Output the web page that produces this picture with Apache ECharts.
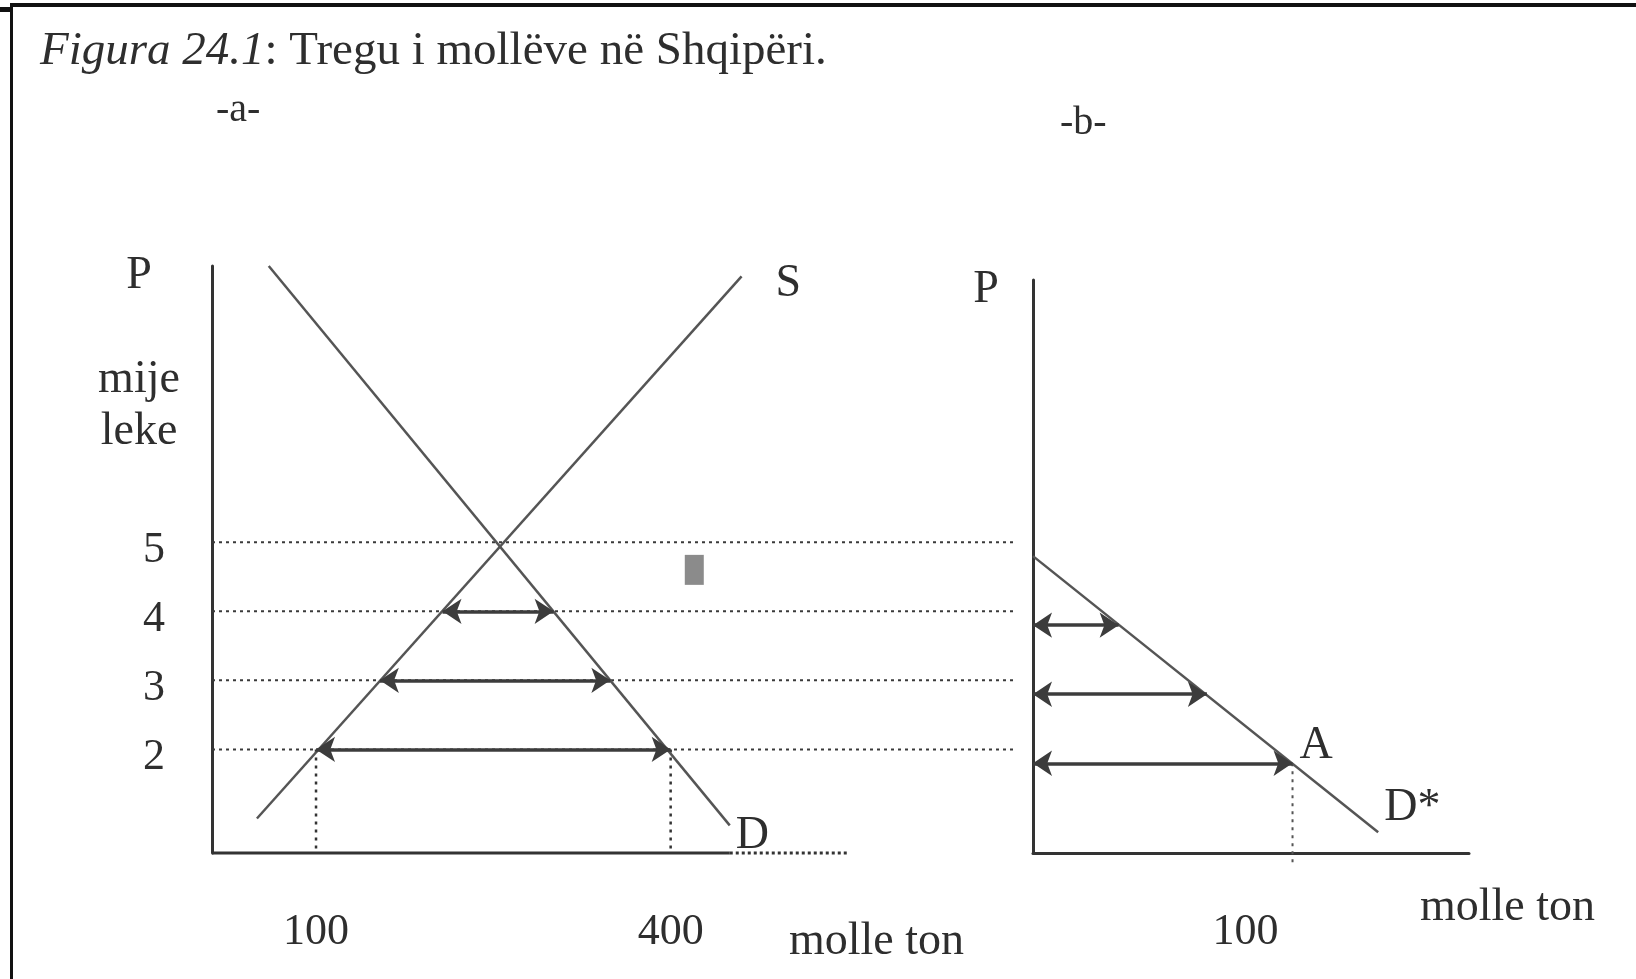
<!DOCTYPE html>
<html>
<head>
    <meta charset="utf-8">
    <title>Tregu i mollëve në Shqipëri</title>
    <script src="https://cdn.jsdelivr.net/npm/echarts@6.0.0/dist/echarts.min.js"></script>
    <style>
        html, body { margin: 0; padding: 0; background: #fff; }
    </style>
</head>
<body>
    <div id="main" style="width:1636px;height:979px;"></div>
    <script type="text/javascript">
        // te dhenat e figures
        var priceLevels = [5, 4, 3, 2];          // vijat me pika horizontale
        var guideFromA = 12, guideToA = 693;     // shtrirja e tyre (molle ton, paneli a)
        var axisSolidA = [12, 450], axisDottedA = [450, 549];
        var supplyA = [[50, 1.0], [460, 8.85]];  // S
        var demandA = [[60, 9.0], [450, 0.9]];   // D
        var shortPrices = [4, 3, 2];
        var supplyQtyA = [207, 154, 100];
        var demandQtyA = [301, 349, 400];
        var excessDemandB = [[0, 5], [133, 1.0]]; // D*
        var importQtyB = [33, 67, 100];
        var pTicksA = [2, 3, 4, 5];
        var qTicksA = [100, 400];
        var qTicksB = [100];
        var pointA = [100, 2];
        var markerA = [420, 4.6];

        var font = 'Liberation Serif';
        var ink = '#2e2e2e';
        var lineGray = '#555';

        function seg(grid, data, type, width, color) {
            return {
                type: 'line', xAxisIndex: grid, yAxisIndex: grid,
                data: data, showSymbol: false, symbol: 'none', clip: false, silent: true,
                lineStyle: { color: color || lineGray, width: width || 2, type: type || 'solid' }
            };
        }

        var series = [];
        // boshti x i panelit a (i plote, pastaj me pika)
        series.push(seg(0, [[axisSolidA[0], 0.5], [axisSolidA[1], 0.5]], 'solid', 3, '#333'));
        series.push(seg(0, [[axisDottedA[0], 0.5], [axisDottedA[1], 0.5]], [3, 3], 3, '#333'));
        // vijat me pika te cmimeve (a -> b)
        priceLevels.forEach(function (p) {
            series.push(seg(0, [[guideFromA, p], [guideToA, p]], [3, 4], 2, '#3a3a3a'));
        });
        // vijat vertikale me pika
        series.push(seg(0, [[qTicksA[0], 2], [qTicksA[0], 0.5]], [3, 5], 2.5, '#333'));
        series.push(seg(0, [[qTicksA[1], 2], [qTicksA[1], 0.5]], [3, 5], 2.5, '#333'));
        series.push(seg(1, [[qTicksB[0], 2], [qTicksB[0], 0.5]], [3, 5], 2, '#555'));

        // S, D, D*
        var sS = seg(0, supplyA, 'solid', 2.5);
        sS.endLabel = { show: true, formatter: 'S', distance: 0, offset: [34, 8],
            fontFamily: font, fontSize: 46, color: ink };
        series.push(sS);
        var sD = seg(0, demandA, 'solid', 2.5);
        sD.endLabel = { show: true, formatter: 'D', distance: 0, offset: [6, 11],
            fontFamily: font, fontSize: 46, color: ink };
        series.push(sD);
        var sDs = seg(1, excessDemandB, 'solid', 2.5);
        sDs.endLabel = { show: true, formatter: 'D*', distance: 0, offset: [6, -24],
            fontFamily: font, fontSize: 46, color: ink };
        sDs.markPoint = {
            silent: true, symbol: 'rect', symbolSize: 1,
            itemStyle: { color: 'rgba(0,0,0,0)' },
            label: { show: true, formatter: 'A', position: 'inside', align: 'left', offset: [7, -17],
                fontFamily: font, fontSize: 46, color: ink },
            data: [{ coord: pointA }]
        };
        series.push(sDs);

        // shigjetat
        function arrows(grid, pairs) {
            return {
                type: 'line', xAxisIndex: grid, yAxisIndex: grid, data: [], silent: true,
                markLine: {
                    silent: true, symbol: ['arrow', 'arrow'], symbolSize: 19,
                    lineStyle: { color: '#3c3c3c', width: 3.5, type: 'solid' },
                    label: { show: false }, emphasis: { disabled: true },
                    data: pairs
                }
            };
        }
        series.push(arrows(0, shortPrices.map(function (p, i) {
            return [{ coord: [supplyQtyA[i], p] }, { coord: [demandQtyA[i], p] }];
        })));
        series.push(arrows(1, shortPrices.map(function (p, i) {
            return [{ coord: [0, p] }, { coord: [importQtyB[i], p] }];
        })));

        // shenja e vogel gri
        series.push({
            type: 'scatter', xAxisIndex: 0, yAxisIndex: 0, silent: true,
            symbol: 'rect', symbolSize: [19, 30], data: [markerA],
            itemStyle: { color: '#6e6e6e' }
        });

        var axisLine = { show: true, onZero: false, lineStyle: { color: '#333', width: 3 } };
        var labelText = { fontFamily: font, fontSize: 44, color: ink };

        var option = {
            animation: false,
            backgroundColor: '#fff',
            title: [
                {
                    text: '{i|Figura 24.1}: Tregu i mollëve në Shqipëri.',
                    left: 40, top: 28, padding: 0,
                    textStyle: { fontFamily: font, fontSize: 47, fontWeight: 'normal', color: ink,
                        rich: { i: { fontFamily: font, fontSize: 47, fontStyle: 'italic', color: ink } } }
                },
                { text: '-a-', left: 216, top: 90, padding: 0,
                    textStyle: { fontFamily: font, fontSize: 40, fontWeight: 'normal', color: ink } },
                { text: '-b-', left: 1060, top: 103, padding: 0,
                    textStyle: { fontFamily: font, fontSize: 40, fontWeight: 'normal', color: ink } }
            ],
            grid: [
                { left: 212, top: 266, width: 805, height: 587, outerBoundsMode: 'none', containLabel: false },
                { left: 1033, top: 280, width: 436, height: 573, outerBoundsMode: 'none', containLabel: false }
            ],
            xAxis: [
                {
                    type: 'value', gridIndex: 0, min: 12, max: 693,
                    axisLine: { show: false }, axisTick: { show: false }, splitLine: { show: false },
                    axisLabel: Object.assign({ customValues: qTicksA, margin: 57 }, labelText),
                    name: 'molle ton', nameLocation: 'end', nameGap: -228,
                    nameTextStyle: { fontFamily: font, fontSize: 46, color: ink,
                        align: 'left', verticalAlign: 'top', padding: [66, 0, 0, 0] }
                },
                {
                    type: 'value', gridIndex: 1, min: 0, max: 168,
                    axisLine: axisLine, axisTick: { show: false }, splitLine: { show: false },
                    axisLabel: Object.assign({ customValues: qTicksB, margin: 57, padding: [0, 94, 0, 0] }, labelText),
                    name: 'molle ton', nameLocation: 'end', nameGap: -49,
                    nameTextStyle: { fontFamily: font, fontSize: 46, color: ink,
                        align: 'left', verticalAlign: 'top', padding: [32, 0, 0, 0] }
                }
            ],
            yAxis: [
                {
                    type: 'value', gridIndex: 0, min: 0.5, max: 9,
                    axisLine: axisLine, axisTick: { show: false }, splitLine: { show: false },
                    axisLabel: Object.assign({ customValues: pTicksA, margin: 47,
                        verticalAlign: 'top', lineHeight: 16 }, labelText),
                    name: 'P\n\nmije\nleke', nameLocation: 'end', nameGap: 16,
                    nameTextStyle: { fontFamily: font, fontSize: 46, color: ink, lineHeight: 52,
                        align: 'center', verticalAlign: 'top', padding: [0, 146, 0, 0] }
                },
                {
                    type: 'value', gridIndex: 1, min: 0.7, max: 9,
                    axisLine: axisLine, axisTick: { show: false }, splitLine: { show: false },
                    axisLabel: { show: false },
                    name: 'P', nameLocation: 'end', nameGap: 16,
                    nameTextStyle: { fontFamily: font, fontSize: 46, color: ink, lineHeight: 52,
                        align: 'center', verticalAlign: 'top', padding: [0, 94, 0, 0] }
                }
            ],
            // korniza e faqes se skanuar
            graphic: [
                { type: 'rect', silent: true, shape: { x: 10, y: 3, width: 1626, height: 4 }, style: { fill: '#111' } },
                { type: 'rect', silent: true, shape: { x: 0, y: 7, width: 12, height: 5 }, style: { fill: '#111' } },
                { type: 'rect', silent: true, shape: { x: 10, y: 5, width: 3, height: 974 }, style: { fill: '#111' } }
            ],
            series: series
        };

        var myChart = echarts.init(document.getElementById('main'));
        myChart.setOption(option);
    </script>
</body>
</html>
